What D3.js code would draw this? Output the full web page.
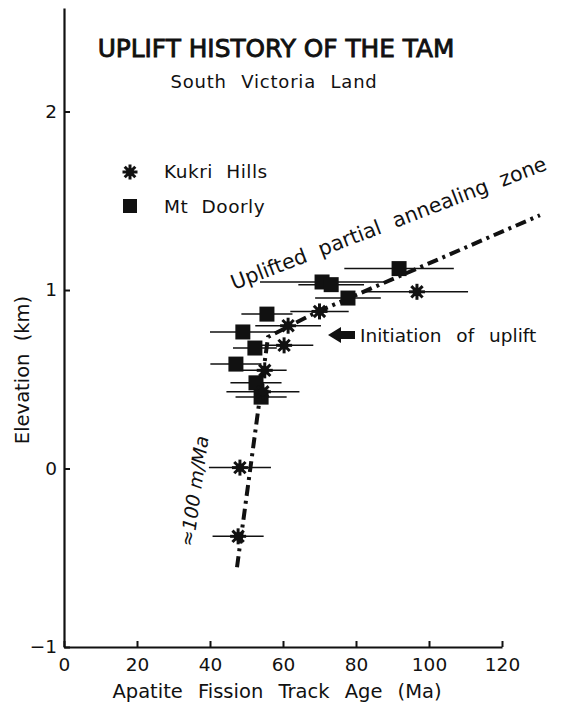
<!DOCTYPE html>
<html>
<head>
<meta charset="utf-8">
<script src="https://cdn.jsdelivr.net/npm/d3@7"></script>
<style>
  body { margin: 0; background: #fff; }
  svg { display: block; }
  text { font-family: "DejaVu Sans", sans-serif; fill: #111; }
</style>
</head>
<body>
<svg id="chart" width="570" height="706"></svg>
<script>
// Kukri Hills (asterisks)
const kukriAge  = [48.2, 47.7, 96.7, 70.0, 61.4, 60.3, 55.0, 54.5];
const kukriElev = [0.005, -0.38, 0.99, 0.88, 0.80, 0.69, 0.55, 0.43];
const kukriErr  = [8.5, 7, 14, 8, 9, 8, 6, 10];

// Mt Doorly (squares)
const doorlyAge  = [91.8, 70.7, 73.2, 77.8, 55.6, 49.0, 52.3, 47.1, 52.6, 54.0];
const doorlyElev = [1.12, 1.045, 1.03, 0.955, 0.865, 0.765, 0.675, 0.585, 0.48, 0.40];
const doorlyErr  = [15, 17, 9, 9, 7, 9, 6, 7, 7, 7];

// dash-dot interpretation line
const trendAge  = [47.4, 55.9, 69.3, 130.4];
const trendElev = [-0.553, 0.737, 0.877, 1.419];

const xTicks = [0, 20, 40, 60, 80, 100, 120];
const yTicks = [-1, 0, 1, 2];


const svg = d3.select("#chart");

const x = d3.scaleLinear().domain([0, 120]).range([64, 502]);
const y = d3.scaleLinear().domain([-1, 2.58]).range([647, 8]);

const kukri = kukriAge.map((a, i) => ({age: a, elev: kukriElev[i], err: kukriErr[i]}));
const doorly = doorlyAge.map((a, i) => ({age: a, elev: doorlyElev[i], err: doorlyErr[i]}));
const trend = trendAge.map((a, i) => ({age: a, elev: trendElev[i]}));


// axes
const xAxis = svg.append("g")
    .attr("transform", "translate(0," + y(-1) + ")")
    .call(d3.axisBottom(x).tickValues(xTicks).tickSizeInner(-6).tickSizeOuter(0).tickPadding(11));

const yAxis = svg.append("g")
    .attr("transform", "translate(" + x(0) + ",0)")
    .call(d3.axisLeft(y).tickValues(yTicks).tickFormat(d3.format("d"))
        .tickSizeInner(-6).tickSizeOuter(0).tickPadding(7));

[xAxis, yAxis].forEach(g => {
    g.select(".domain").attr("stroke", "#111").attr("stroke-width", 2.2);
    g.selectAll(".tick line").attr("stroke", "#111").attr("stroke-width", 2);
    g.selectAll(".tick text")
        .style("font-family", "DejaVu Sans")
        .style("font-size", "18.5px")
        .attr("fill", "#111");
});

svg.append("text")
    .attr("x", 277)
    .attr("y", 698)
    .attr("text-anchor", "middle")
    .style("font-size", "19.5px")
    .style("word-spacing", "9px")
    .text("Apatite Fission Track Age (Ma)");

svg.append("text")
    .attr("transform", "translate(29,370) rotate(-90)")
    .attr("text-anchor", "middle")
    .style("font-size", "19.5px")
    .style("word-spacing", "6px")
    .text("Elevation (km)");


// titles
svg.append("text")
    .attr("x", 276)
    .attr("y", 57)
    .attr("text-anchor", "middle")
    .style("font-size", "24.8px")
    .attr("stroke", "#111")
    .attr("stroke-width", 0.9)
    .text("UPLIFT HISTORY OF THE TAM");

svg.append("text")
    .attr("x", 274)
    .attr("y", 88)
    .attr("text-anchor", "middle")
    .style("font-size", "18px")
    .style("letter-spacing", "0.8px")
    .style("word-spacing", "8px")
    .text("South Victoria Land");


// error bars
const bars = kukri.concat(doorly);
svg.selectAll(".err")
    .data(bars)
    .enter()
    .append("line")
    .attr("class", "err")
    .attr("x1", d => x(d.age - d.err))
    .attr("x2", d => x(d.age + d.err))
    .attr("y1", d => y(d.elev))
    .attr("y2", d => y(d.elev))
    .attr("stroke", "#111")
    .attr("stroke-width", 1.5);


// trend line
svg.append("path")
    .datum(trend)
    .attr("d", d3.line().x(d => x(d.age)).y(d => y(d.elev)))
    .attr("fill", "none")
    .attr("stroke", "#111")
    .attr("stroke-width", 4)
    .attr("stroke-dasharray", "11,5,3,5");


// symbols
function star(g, r) {
    [0, 45, 90, 135].forEach(a => {
        g.append("line")
            .attr("x1", -r).attr("x2", r)
            .attr("y1", 0).attr("y2", 0)
            .attr("transform", "rotate(" + a + ")")
            .attr("stroke", "#111")
            .attr("stroke-width", 3);
    });
    g.append("circle").attr("r", r * 0.55).attr("fill", "#111");
}

const sq = 15;

svg.selectAll(".doorly")
    .data(doorly)
    .enter()
    .append("rect")
    .attr("class", "doorly")
    .attr("x", d => x(d.age) - sq / 2)
    .attr("y", d => y(d.elev) - sq / 2)
    .attr("width", sq)
    .attr("height", sq)
    .attr("fill", "#111");

svg.selectAll(".kukri")
    .data(kukri)
    .enter()
    .append("g")
    .attr("class", "kukri")
    .attr("transform", d => "translate(" + x(d.age) + "," + y(d.elev) + ")")
    .each(function() { star(d3.select(this), 8); });


// legend
const legend = svg.append("g");
star(legend.append("g").attr("transform", "translate(130,172)"), 7.5);
legend.append("rect")
    .attr("x", 123).attr("y", 199)
    .attr("width", 14).attr("height", 14)
    .attr("fill", "#111");
legend.append("text")
    .attr("x", 164).attr("y", 178)
    .style("font-size", "18.5px")
    .style("letter-spacing", "0.5px")
    .style("word-spacing", "7px")
    .text("Kukri Hills");
legend.append("text")
    .attr("x", 164).attr("y", 213)
    .style("font-size", "18.5px")
    .style("letter-spacing", "0.5px")
    .style("word-spacing", "7px")
    .text("Mt Doorly");


// annotations
svg.append("text")
    .attr("transform", "translate(234,290) rotate(-21)")
    .style("font-size", "20.5px")
    .style("word-spacing", "7px")
    .text("Uplifted partial annealing zone");

svg.append("path")
    .attr("d", "M328,335 L341,327 L341,331 L355,331 L355,339 L341,339 L341,343 Z")
    .attr("fill", "#111");

svg.append("text")
    .attr("x", 360)
    .attr("y", 342)
    .style("font-size", "18.5px")
    .style("word-spacing", "9px")
    .text("Initiation of uplift");

svg.append("text")
    .attr("transform", "translate(201,492) rotate(-82)")
    .attr("text-anchor", "middle")
    .style("font-size", "19px")
    .style("font-style", "italic")
    .text("≈100 m/Ma");
</script>
</body>
</html>
